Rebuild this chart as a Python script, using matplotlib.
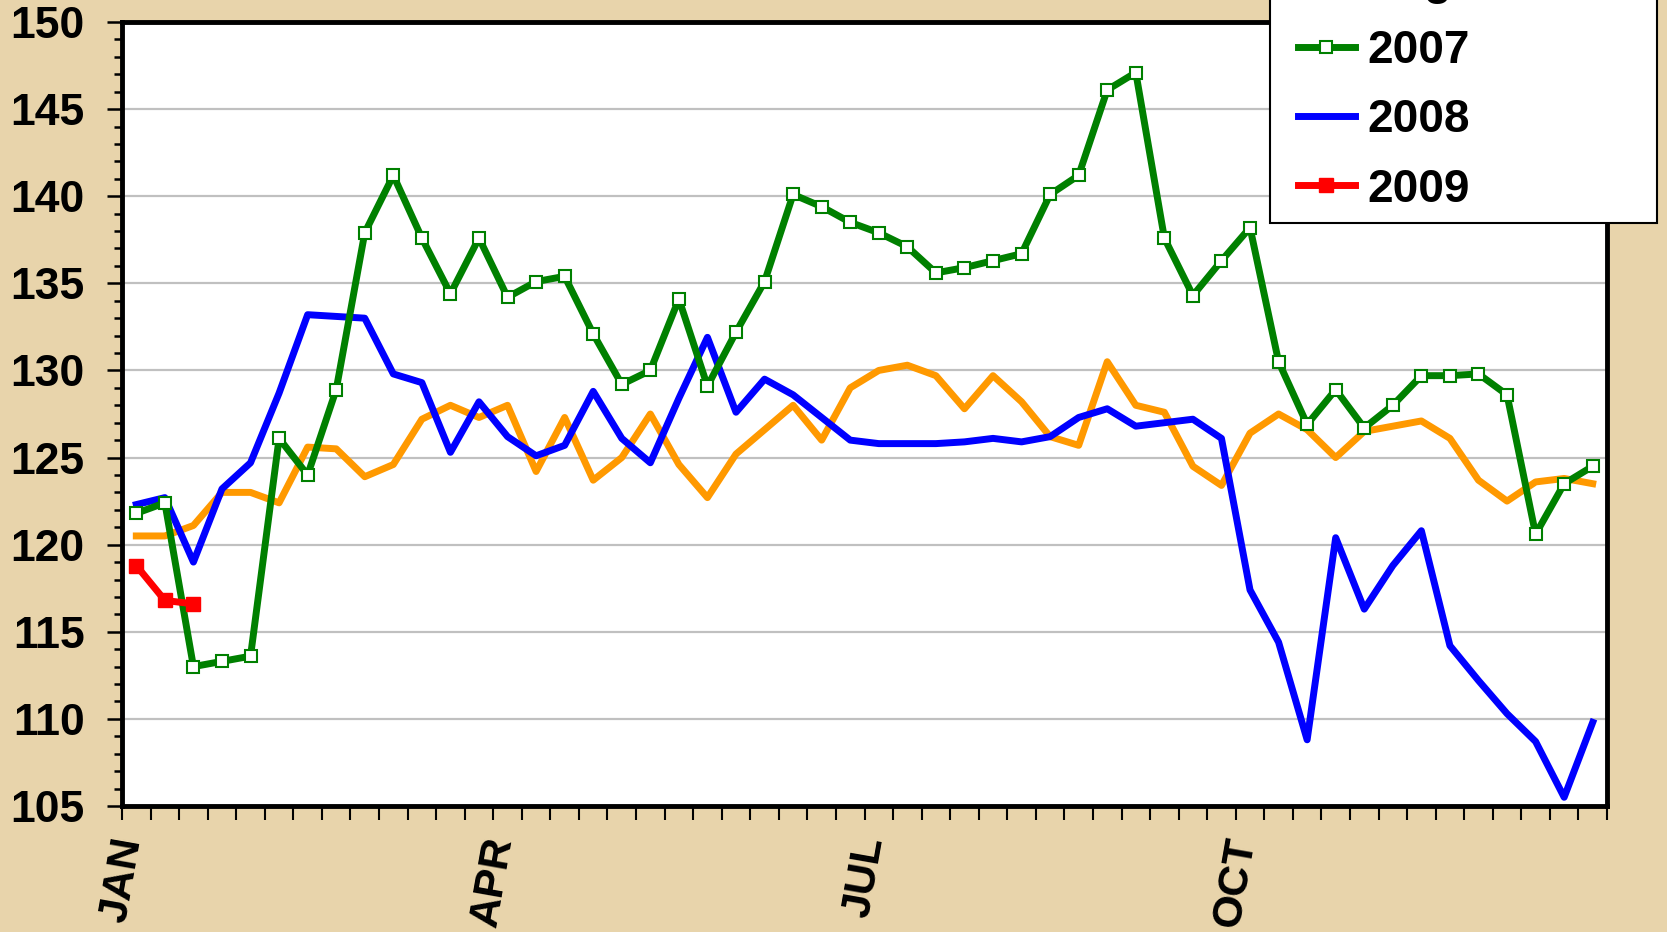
import numpy as np
import matplotlib
matplotlib.use("Agg")
import matplotlib.pyplot as plt
from matplotlib.lines import Line2D
from matplotlib.legend_handler import HandlerLine2D
from matplotlib.ticker import FixedLocator, MultipleLocator

# weekly values, week 1..52
avg = [120.5, 120.5, 121.1, 123.0, 123.0, 122.4, 125.6, 125.5, 123.9, 124.6,
       127.2, 128.0, 127.3, 128.0, 124.2, 127.3, 123.7, 125.0, 127.5, 124.6,
       122.7, 125.2, 126.6, 128.0, 126.0, 129.0, 130.0, 130.3, 129.7, 127.8,
       129.7, 128.2, 126.2, 125.7, 130.5, 128.0, 127.6, 124.5, 123.4, 126.4,
       127.5, 126.6, 125.0, 126.5, 126.8, 127.1, 126.1, 123.7, 122.5, 123.6,
       123.8, 123.5]
y2007 = [121.8, 122.4, 113.0, 113.3, 113.6, 126.1, 124.0, 128.9, 137.9, 141.2,
         137.6, 134.4, 137.6, 134.2, 135.1, 135.4, 132.1, 129.2, 130.0, 134.1,
         129.1, 132.2, 135.1, 140.1, 139.4, 138.5, 137.9, 137.1, 135.6, 135.9,
         136.3, 136.7, 140.1, 141.2, 146.1, 147.1, 137.6, 134.3, 136.3, 138.2,
         130.5, 126.9, 128.9, 126.7, 128.0, 129.7, 129.7, 129.8, 128.6, 120.6,
         123.5, 124.5]
y2008 = [122.3, 122.7, 119.0, 123.2, 124.7, 128.7, 133.2, 133.1, 133.0, 129.8,
         129.3, 125.3, 128.2, 126.2, 125.1, 125.7, 128.8, 126.1, 124.7, 128.4,
         131.9, 127.6, 129.5, 128.6, 127.3, 126.0, 125.8, 125.8, 125.8, 125.9,
         126.1, 125.9, 126.2, 127.3, 127.8, 126.8, 127.0, 127.2, 126.1, 117.4,
         114.4, 108.8, 120.4, 116.3, 118.8, 120.8, 114.2, 112.2, 110.3, 108.7,
         105.5, 109.8]
y2009 = [118.8, 116.8, 116.6]

months = ["JAN", "APR", "JUL", "OCT"]
month_week = [0, 13, 26, 39]

bg = "#e8d4ab"
font = "Liberation Sans"

fig = plt.figure(figsize=(16.67, 9.32), dpi=100, facecolor=bg)
ax = fig.add_axes([0.0732, 0.1352, 0.8908, 0.8412])
ax.set_facecolor("white")

weeks = np.arange(len(avg))
lw = 5
ax.plot(weeks, avg, color="#ff9900", lw=lw, label="Avg", zorder=3)
ax.plot(weeks, y2007, color="#008000", lw=lw, marker="s", ms=9, mfc="white",
        mec="#008000", mew=1.5, label="2007", zorder=5)
ax.plot(weeks, y2008, color="#0000ff", lw=lw, label="2008", zorder=4)
ax.plot(np.arange(len(y2009)), y2009, color="#ff0000", lw=lw, marker="s", ms=10,
        mfc="#ff0000", mec="#ff0000", label="2009", zorder=6)

ax.set_xlim(-0.5, len(avg) - 0.5)
ax.set_ylim(105, 150)

ax.yaxis.set_major_locator(MultipleLocator(5))
ax.yaxis.set_minor_locator(MultipleLocator(1))
ax.grid(axis="y", which="major", color="#c0c0c0", lw=1.6, zorder=1)
ax.set_axisbelow(True)

ax.xaxis.set_major_locator(FixedLocator([w - 0.5 for w in month_week]))
ax.xaxis.set_minor_locator(FixedLocator(np.arange(len(avg) + 1) - 0.5))
ax.set_xticklabels(months, rotation=80, fontsize=31, fontweight="bold",
                   fontfamily=font)
ax.tick_params(axis="x", which="both", length=10, width=1.5, direction="out", pad=10)

for lab in ax.get_yticklabels():
    lab.set_fontsize(32)
    lab.set_fontweight("bold")
    lab.set_fontfamily(font)
ax.tick_params(axis="y", which="major", length=11, width=1.8, pad=16)
ax.tick_params(axis="y", which="minor", length=6, width=1.8)

for s in ax.spines.values():
    s.set_linewidth(3.5)
    s.set_color("black")

leg = ax.legend(loc="lower left", bbox_to_anchor=(1270 / 1667, 1 - 223 / 932, 387 / 1667, 0.3),
                bbox_transform=fig.transFigure, mode="expand", borderaxespad=0,
                fancybox=False, framealpha=1, edgecolor="black", borderpad=0.25,
                handlelength=1.6, handletextpad=0.28, labelspacing=0.55,
                handler_map={Line2D: HandlerLine2D(xpad=0.35)},
                prop={"family": font, "weight": "bold", "size": 33})
leg.get_frame().set_linewidth(1.5)
leg.set_zorder(10)

fig.savefig("out.png", dpi=100, facecolor=bg)
